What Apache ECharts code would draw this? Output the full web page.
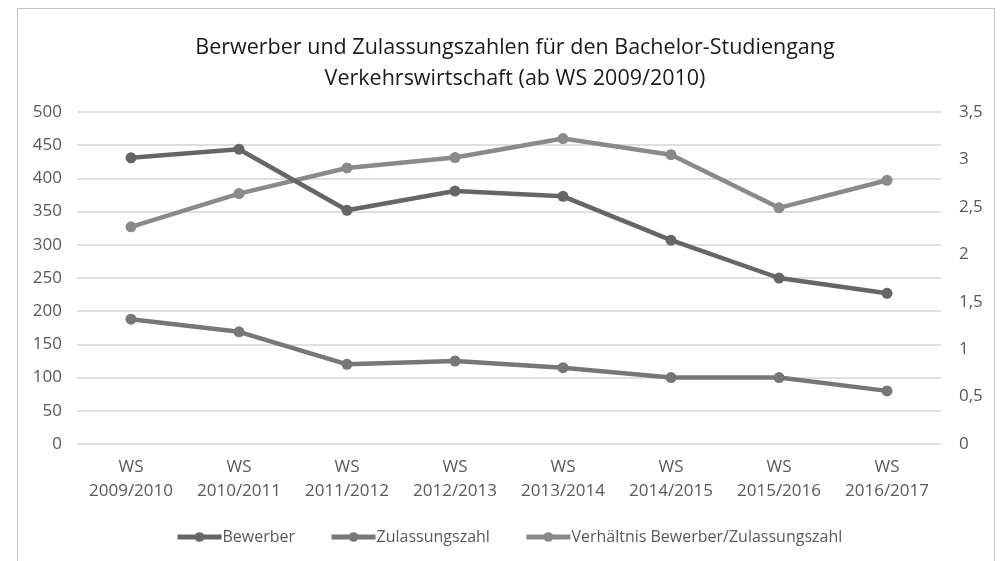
<!DOCTYPE html>
<html>
<head>
<meta charset="utf-8">
<script src="https://cdn.jsdelivr.net/npm/echarts@6/dist/echarts.min.js"></script>
<style>
  html, body { margin: 0; padding: 0; background: #fff; }
  #frame {
    position: absolute; left: 17px; top: 8px; width: 978px; height: 600px;
    border: 1.5px solid #c6c6c6; box-sizing: border-box;
  }
  #main { position: absolute; left: 0; top: 0; width: 1004px; height: 561px; }
</style>
</head>
<body>
<div id="frame"></div>
<div id="main"></div>
<script>
// Semester
const semesters = ['WS\n2009/2010', 'WS\n2010/2011', 'WS\n2011/2012', 'WS\n2012/2013',
    'WS\n2013/2014', 'WS\n2014/2015', 'WS\n2015/2016', 'WS\n2016/2017'];
const bewerber = [431, 444, 352, 381, 373, 307, 250, 227];
const zulassung = [188, 169, 120, 125, 115, 100, 100, 80];
const verhaeltnis = [2.29, 2.64, 2.91, 3.02, 3.22, 3.05, 2.49, 2.78];

const textColor = '#595959';
const font = 'Open Sans';

const chart = echarts.init(document.getElementById('main'));

const lineSeries = (name, data, color, axis) => ({
    name,
    type: 'line',
    yAxisIndex: axis,
    data,
    symbol: 'circle',
    symbolSize: 11,
    lineStyle: { width: 4.5, color },
    itemStyle: { color },
    z: axis === 1 ? 3 : 4,
});

chart.setOption({
    animation: false,
    textStyle: { fontFamily: font },
    title: {
        text: 'Berwerber und Zulassungszahlen für den Bachelor-Studiengang\nVerkehrswirtschaft (ab WS 2009/2010)',
        left: 510,
        top: 27,
        textAlign: 'center',
        textStyle: {
            fontFamily: font,
            fontSize: 21.5,
            fontWeight: 'normal',
            color: '#1a1a1a',
            lineHeight: 31,
        },
    },
    grid: {
        left: 77,
        right: 63,
        top: 112,
        bottom: 117,
    },
    legend: {
        left: 170,
        top: 524,
        itemWidth: 44,
        itemHeight: 12,
        itemGap: 34,
        lineStyle: { width: 5 },
        textStyle: { fontFamily: font, fontSize: 16, color: textColor, padding: [0, 0, 0, -4] },
        data: ['Bewerber', 'Zulassungszahl', 'Verhältnis Bewerber/Zulassungszahl'],
    },
    xAxis: {
        type: 'category',
        data: semesters,
        axisLine: { show: false },
        axisTick: { show: false },
        axisLabel: {
            color: textColor,
            fontSize: 17,
            lineHeight: 24,
            margin: 11,
            interval: 0,
        },
    },
    yAxis: [
        {
            type: 'value',
            min: 0,
            max: 500,
            interval: 50,
            axisLabel: { color: textColor, fontSize: 17, margin: 15 },
            splitLine: { lineStyle: { color: '#d4d4d4', width: 1.5 } },
        },
        {
            type: 'value',
            min: 0,
            max: 3.5,
            interval: 0.5,
            axisLabel: {
                color: textColor,
                fontSize: 17,
                margin: 18,
                formatter: v => String(v).replace('.', ','),
            },
            splitLine: { show: false },
        },
    ],
    series: [
        lineSeries('Bewerber', bewerber, '#666666', 0),
        lineSeries('Zulassungszahl', zulassung, '#777777', 0),
        lineSeries('Verhältnis Bewerber/Zulassungszahl', verhaeltnis, '#8a8a8a', 1),
    ],
});
</script>
</body>
</html>
